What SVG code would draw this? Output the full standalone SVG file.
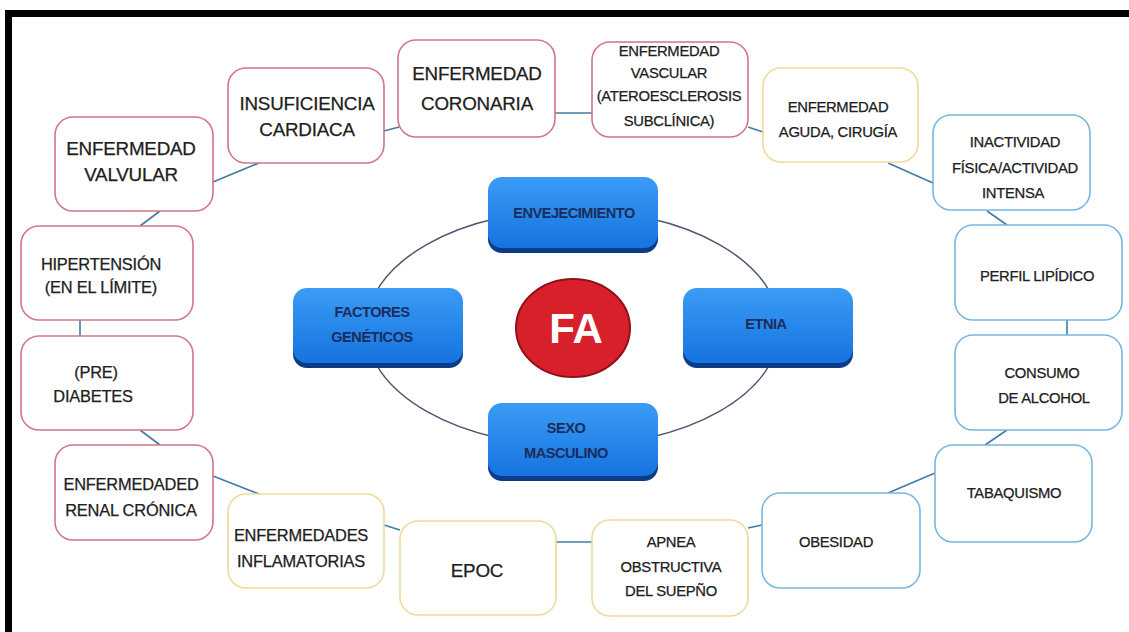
<svg xmlns="http://www.w3.org/2000/svg" width="1129" height="632" viewBox="0 0 1129 632">
<style>
.bx{fill:#ffffff;stroke-width:1.6}
.pk{stroke:#d4748b}
.yl{stroke:#eedb98}
.bl{stroke:#78b6df}
.t{font-family:"Liberation Sans",Arial,sans-serif;fill:#202020;stroke:#202020;stroke-width:0.25px;text-anchor:middle}
.L{font-size:18.8px;letter-spacing:-0.2px}
.M{font-size:16.4px;letter-spacing:-0.2px}
.S{font-size:14.8px;letter-spacing:-0.3px}
.cb{font-family:"Liberation Sans",Arial,sans-serif;font-size:14.6px;font-weight:bold;fill:#1a2d5c;text-anchor:middle;letter-spacing:-0.5px}
.sh{fill:#0c3c85}
.mb{fill:url(#gb)}
.cn line{stroke:#3f7da3;stroke-width:1.6}
</style>
<defs>
<linearGradient id="gb" x1="0" y1="0" x2="0" y2="1">
<stop offset="0" stop-color="#3a9cf6"/>
<stop offset="1" stop-color="#1673e0"/>
</linearGradient>
</defs>
<rect x="0" y="0" width="1129" height="632" fill="#ffffff"/>
<g id="frame" fill="#000000">
<rect x="5" y="10" width="1124" height="7"/>
<rect x="5" y="10" width="7" height="622"/>
</g>
<g id="connectors" class="cn">
<ellipse cx="573" cy="328" rx="207" ry="118" fill="none" stroke="#4a5870" stroke-width="1.5"/>
<line x1="213" y1="182" x2="259" y2="163"/>
<line x1="384" y1="131" x2="399" y2="127"/>
<line x1="555" y1="113" x2="592" y2="113"/>
<line x1="748" y1="127" x2="763" y2="132"/>
<line x1="888" y1="163" x2="933" y2="183"/>
<line x1="987" y1="211" x2="1007" y2="225"/>
<line x1="1067" y1="320" x2="1067" y2="335"/>
<line x1="1007" y1="430" x2="985" y2="445"/>
<line x1="935" y1="473" x2="888" y2="493"/>
<line x1="762" y1="525" x2="748" y2="528"/>
<line x1="556" y1="542" x2="592" y2="542"/>
<line x1="384" y1="525" x2="400" y2="530"/>
<line x1="213" y1="476" x2="259" y2="494"/>
<line x1="140" y1="430" x2="160" y2="445"/>
<line x1="80" y1="320" x2="80" y2="336"/>
<line x1="140" y1="226" x2="160" y2="211"/>
</g>
<g id="n-valvular">
<rect class="bx pk" x="55" y="117" width="158" height="94" rx="18"/>
<text class="t L" x="131" y="155">ENFERMEDAD</text>
<text class="t L" x="131" y="181">VALVULAR</text>
</g>
<g id="n-insuficiencia">
<rect class="bx pk" x="228" y="68" width="156" height="95" rx="18"/>
<text class="t L" x="307" y="110">INSUFICIENCIA</text>
<text class="t L" x="307" y="136">CARDIACA</text>
</g>
<g id="n-coronaria">
<rect class="bx pk" x="398" y="40" width="157" height="97" rx="18"/>
<text class="t L" x="477" y="80">ENFERMEDAD</text>
<text class="t L" x="477" y="110">CORONARIA</text>
</g>
<g id="n-vascular">
<rect class="bx pk" x="592" y="42" width="156" height="95" rx="18"/>
<text class="t S" x="669" y="56">ENFERMEDAD</text>
<text class="t S" x="669" y="78">VASCULAR</text>
<text class="t S" x="669" y="101">(ATEROESCLEROSIS</text>
<text class="t S" x="669" y="126">SUBCLÍNICA)</text>
</g>
<g id="n-aguda">
<rect class="bx yl" x="763" y="68" width="155" height="94" rx="18"/>
<text class="t S" x="838" y="112">ENFERMEDAD</text>
<text class="t S" x="838" y="137">AGUDA, CIRUGÍA</text>
</g>
<g id="n-inactividad">
<rect class="bx bl" x="933" y="115" width="157" height="95" rx="18"/>
<text class="t S" x="1015" y="147">INACTIVIDAD</text>
<text class="t S" x="1015" y="173">FÍSICA/ACTIVIDAD</text>
<text class="t S" x="1013" y="198">INTENSA</text>
</g>
<g id="n-perfil">
<rect class="bx bl" x="955" y="225" width="167" height="95" rx="18"/>
<text class="t S" x="1037" y="281">PERFIL LIPÍDICO</text>
</g>
<g id="n-alcohol">
<rect class="bx bl" x="955" y="335" width="167" height="95" rx="18"/>
<text class="t S" x="1042" y="378">CONSUMO</text>
<text class="t S" x="1044" y="403">DE ALCOHOL</text>
</g>
<g id="n-tabaquismo">
<rect class="bx bl" x="935" y="445" width="157" height="97" rx="18"/>
<text class="t S" x="1014" y="498">TABAQUISMO</text>
</g>
<g id="n-obesidad">
<rect class="bx bl" x="762" y="493" width="158" height="95" rx="18"/>
<text class="t S" x="836" y="547">OBESIDAD</text>
</g>
<g id="n-apnea">
<rect class="bx yl" x="592" y="520" width="156" height="96" rx="18"/>
<text class="t S" x="671" y="547">APNEA</text>
<text class="t S" x="671" y="572">OBSTRUCTIVA</text>
<text class="t S" x="671" y="596">DEL SUEPÑO</text>
</g>
<g id="n-epoc">
<rect class="bx yl" x="400" y="521" width="156" height="94" rx="18"/>
<text class="t L" x="477" y="577">EPOC</text>
</g>
<g id="n-inflamatorias">
<rect class="bx yl" x="228" y="494" width="156" height="94" rx="18"/>
<text class="t M" x="301" y="541">ENFERMEDADES</text>
<text class="t M" x="301" y="567">INFLAMATORIAS</text>
</g>
<g id="n-renal">
<rect class="bx pk" x="55" y="445" width="158" height="95" rx="18"/>
<text class="t M" x="131" y="490">ENFERMEDADED</text>
<text class="t M" x="131" y="516">RENAL CRÓNICA</text>
</g>
<g id="n-diabetes">
<rect class="bx pk" x="21" y="336" width="172" height="94" rx="18"/>
<text class="t M" x="96" y="378">(PRE)</text>
<text class="t M" x="93" y="402">DIABETES</text>
</g>
<g id="n-hipertension">
<rect class="bx pk" x="21" y="226" width="172" height="94" rx="18"/>
<text class="t M" x="101" y="270">HIPERTENSIÓN</text>
<text class="t M" x="101" y="293">(EN EL LÍMITE)</text>
</g>
<g id="n-envejecimiento">
<rect class="sh" x="488" y="181" width="170" height="72" rx="14"/>
<rect class="mb" x="488" y="177" width="170" height="71" rx="14"/>
<text class="cb" x="574" y="218">ENVEJECIMIENTO</text>
</g>
<g id="n-factores">
<rect class="sh" x="293" y="292" width="170" height="76" rx="14"/>
<rect class="mb" x="293" y="288" width="170" height="75" rx="14"/>
<text class="cb" x="372" y="317">FACTORES</text>
<text class="cb" x="372" y="342">GENÉTICOS</text>
</g>
<g id="n-etnia">
<rect class="sh" x="683" y="292" width="170" height="76" rx="14"/>
<rect class="mb" x="683" y="288" width="170" height="75" rx="14"/>
<text class="cb" x="766" y="329">ETNIA</text>
</g>
<g id="n-sexo">
<rect class="sh" x="488" y="407" width="170" height="74" rx="14"/>
<rect class="mb" x="488" y="403" width="170" height="73" rx="14"/>
<text class="cb" x="566" y="433">SEXO</text>
<text class="cb" x="566" y="458">MASCULINO</text>
</g>
<g id="n-fa">
<ellipse cx="573" cy="328" rx="57" ry="49" fill="#d8202b" stroke="#8e1119" stroke-width="2"/>
<text x="576" y="343" font-family="Liberation Sans, Arial, sans-serif" font-size="42" font-weight="bold" fill="#ffffff" text-anchor="middle">FA</text>
</g>
</svg>
